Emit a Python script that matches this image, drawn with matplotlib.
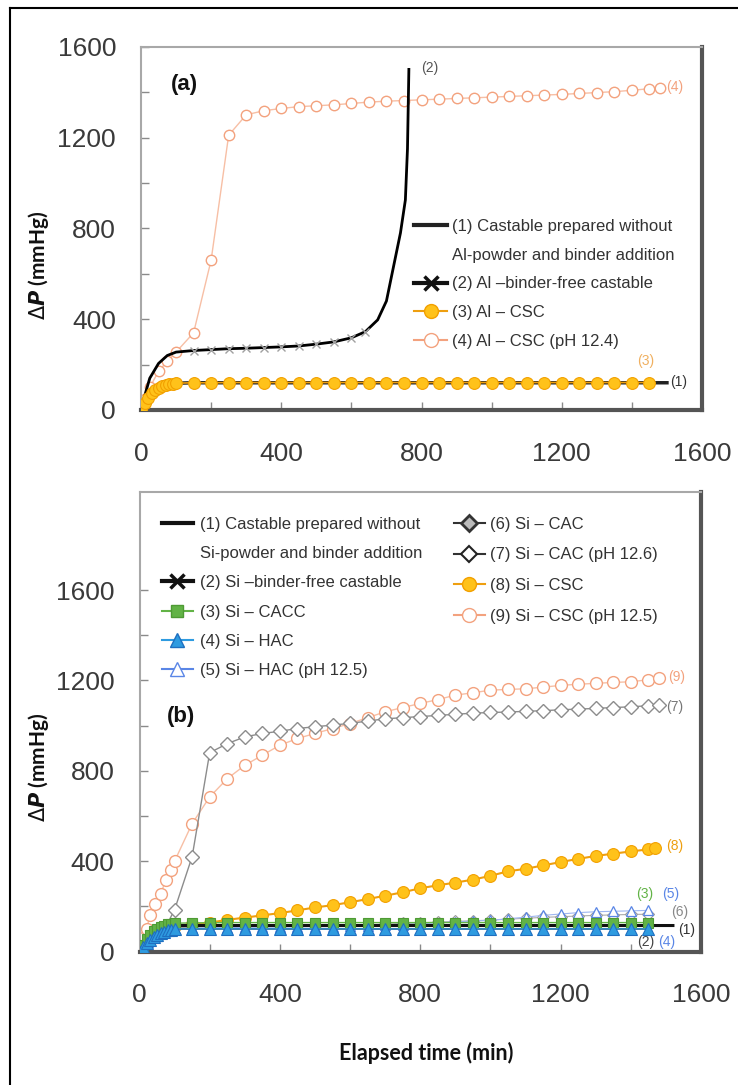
import matplotlib
matplotlib.use('Agg')
import matplotlib.pyplot as plt
from matplotlib.lines import Line2D
from matplotlib.ticker import FixedLocator

plt.rcParams['font.family'] = ['Liberation Sans', 'DejaVu Sans']

# ---------------- data: panel (a) ----------------
a1_x = [0, 20, 40, 60, 80, 100, 150, 1500]
a1_y = [0, 45, 80, 100, 112, 118, 120, 120]

a2_x = [0, 10, 25, 50, 75, 100, 150, 200, 250, 300, 350, 400, 450, 500, 550, 600,
        640, 675, 700, 720, 740, 754, 760, 764]
a2_y = [0, 60, 140, 205, 240, 255, 262, 266, 270, 272, 275, 278, 282, 290, 300, 318,
        345, 397, 480, 630, 780, 925, 1150, 1500]

a3_x = [0, 10, 20, 30, 40, 50, 60, 70, 80, 90, 100, 150, 200, 250, 300, 350, 400, 450,
        500, 550, 600, 650, 700, 750, 800, 850, 900, 950, 1000, 1050, 1100, 1150, 1200,
        1250, 1300, 1350, 1400, 1450]
a3_y = [0, 30, 55, 75, 88, 97, 104, 110, 113, 116, 118, 120, 120, 121, 121, 121, 121, 121,
        121, 121, 121, 121, 121, 121, 121, 121, 121, 121, 121, 121, 121, 121, 121,
        121, 121, 121, 121, 121]

a4_x = [0, 10, 25, 50, 75, 100, 150, 200, 250, 300, 350, 400, 450, 500, 550, 600, 650,
        700, 750, 800, 850, 900, 950, 1000, 1050, 1100, 1150, 1200, 1250, 1300, 1350,
        1400, 1450, 1480]
a4_y = [0, 50, 100, 170, 215, 255, 340, 660, 1210, 1300, 1318, 1328, 1336, 1340, 1344,
        1350, 1356, 1360, 1363, 1366, 1369, 1372, 1375, 1378, 1381, 1384, 1387, 1390,
        1394, 1398, 1402, 1408, 1415, 1420]

a_labels = ['(1) Castable prepared without', 'Al-powder and binder addition',
            '(2) Al \u2013binder-free castable', '(3) Al \u2013 CSC',
            '(4) Al \u2013 CSC (pH 12.4)']

# ---------------- data: panel (b) ----------------
b1_x = [0, 20, 40, 60, 80, 100, 150, 1520]
b1_y = [0, 50, 80, 100, 110, 115, 115, 115]

bx_dense = [0, 10, 20, 30, 40, 50, 60, 70, 80, 90, 100, 150, 200, 250, 300, 350, 400,
            450, 500, 550, 600, 650, 700, 750, 800, 850, 900, 950, 1000, 1050, 1100,
            1150, 1200, 1250, 1300, 1350, 1400, 1450]
b2_y = [0, 25, 45, 60, 72, 80, 88, 93, 97, 100, 100, 100, 100, 100, 100, 100, 100,
        100, 100, 100, 100, 100, 100, 100, 100, 100, 100, 100, 100, 100, 100,
        100, 100, 100, 100, 100, 100, 100]
b3_y = [0, 30, 55, 75, 90, 100, 108, 115, 120, 123, 125, 127, 127, 128, 128, 128, 128,
        128, 128, 128, 128, 128, 128, 128, 128, 128, 128, 128, 128, 128, 128,
        128, 128, 128, 128, 128, 128, 128]
b4_y = [0, 20, 38, 52, 64, 74, 82, 88, 93, 97, 100, 100, 100, 100, 100, 100, 100,
        100, 100, 100, 100, 100, 100, 100, 100, 100, 100, 100, 100, 100, 100,
        100, 100, 100, 100, 100, 100, 100]

bx_sparse = [0, 25, 50, 75, 100, 150, 200, 250, 300, 350, 400, 450, 500, 550, 600, 650,
             700, 750, 800, 850, 900, 950, 1000, 1050, 1100, 1150, 1200, 1250, 1300,
             1350, 1400, 1450]
b5_y = [0, 40, 70, 90, 100, 103, 105, 106, 107, 108, 108, 109, 110, 110, 111, 113,
        116, 119, 123, 127, 131, 135, 138, 145, 152, 160, 166, 172, 176, 178, 180, 182]
b6_y = [0, 45, 75, 95, 105, 108, 110, 111, 112, 113, 113, 114, 115, 116, 117, 119,
        121, 124, 127, 130, 133, 136, 139, 143, 147, 151, 154, 157, 160, 162, 164, 165]

b7_x = [0, 25, 50, 75, 100, 150, 200, 250, 300, 350, 400, 450, 500, 550, 600, 650, 700,
        750, 800, 850, 900, 950, 1000, 1050, 1100, 1150, 1200, 1250, 1300, 1350, 1400,
        1450, 1480]
b7_y = [10, 40, 80, 110, 185, 420, 880, 920, 950, 965, 975, 987, 995, 1002, 1010, 1020,
        1030, 1035, 1040, 1045, 1050, 1055, 1058, 1060, 1063, 1066, 1070, 1073, 1076,
        1080, 1083, 1088, 1090]

b8_x = [0, 25, 50, 75, 100, 150, 200, 250, 300, 350, 400, 450, 500, 550, 600, 650, 700,
        750, 800, 850, 900, 950, 1000, 1050, 1100, 1150, 1200, 1250, 1300, 1350, 1400,
        1450, 1470]
b8_y = [20, 50, 80, 100, 115, 120, 128, 140, 150, 160, 170, 182, 195, 205, 218, 232,
        247, 262, 280, 293, 305, 318, 335, 355, 366, 381, 396, 410, 423, 433, 443, 452,
        457]

b9_x = [0, 10, 20, 30, 45, 60, 75, 90, 100, 150, 200, 250, 300, 350, 400, 450, 500,
        550, 600, 650, 700, 750, 800, 850, 900, 950, 1000, 1050, 1100, 1150, 1200, 1250,
        1300, 1350, 1400, 1450, 1480]
b9_y = [20, 60, 100, 160, 210, 255, 315, 360, 400, 566, 684, 765, 824, 869, 913, 943,
        965, 987, 1009, 1035, 1061, 1080, 1098, 1115, 1135, 1145, 1157, 1160, 1163, 1170,
        1178, 1183, 1187, 1191, 1194, 1203, 1209]

b_labels_c1 = ['(1) Castable prepared without', 'Si-powder and binder addition',
               '(2) Si \u2013binder-free castable', '(3) Si \u2013 CACC',
               '(4) Si \u2013 HAC', '(5) Si \u2013 HAC (pH 12.5)']
b_labels_c2 = ['(6) Si \u2013 CAC', '(7) Si \u2013 CAC (pH 12.6)', '(8) Si \u2013 CSC',
               '(9) Si \u2013 CSC (pH 12.5)']

x_major = [0, 400, 800, 1200, 1600]
x_minor = [200, 600, 1000, 1400]
y_major = [0, 400, 800, 1200, 1600]
y_minor = [200, 600, 1000, 1400]
tick_text = ['0', '400', '800', '1200', '1600']

# ---------------- colours ----------------
ORF = '#FFC21A'; ORE = '#F2A000'; ORL = '#EE9F10'
SAL = '#F3A27E'; SALL = '#F7BFA5'
GRY = '#8C8C8C'
GRN = '#62B346'; GRNE = '#4E9A34'
BLU = '#2E9BE0'; BLUE = '#1E6FC0'
BLO = '#5A86E6'

fig = plt.figure(figsize=(7.38, 10.85), dpi=100)
W, H = 738.0, 1085.0

axa = fig.add_axes([141 / W, 1 - 410 / H, (702 - 141) / W, (410 - 46.7) / H])
axb = fig.add_axes([139.5 / W, 1 - 951.5 / H, (701 - 139.5) / W, (951.5 - 492) / H])


def style(ax, ymax):
    ax.set_xlim(0, 1600)
    ax.set_ylim(0, ymax)
    ax.set_xticks(x_major)
    ax.set_xticklabels(tick_text)
    ax.set_yticks(y_major)
    ax.set_yticklabels(tick_text)
    ax.xaxis.set_minor_locator(FixedLocator(x_minor))
    ax.yaxis.set_minor_locator(FixedLocator(y_minor))
    ax.tick_params(which='both', direction='in', length=6, width=1, color='#8a8a8a',
                   top=False, right=False)
    ax.tick_params(axis='x', which='major', pad=23, labelsize=19, labelcolor='#3a3a3a')
    ax.tick_params(axis='y', which='major', pad=18, labelsize=19, labelcolor='#3a3a3a')
    for s in ['left', 'top']:
        ax.spines[s].set_color('#a8a8a8')
        ax.spines[s].set_linewidth(1.5)
    for s in ['right', 'bottom']:
        ax.spines[s].set_color('#555555')
        ax.spines[s].set_linewidth(3)


style(axa, 1600)
style(axb, 2034)

# ---------------- panel (a) ----------------
axa.plot(a4_x, a4_y, color=SALL, lw=1.0, marker='o', ms=7.5, mfc='white', mec=SAL,
         mew=1.0, zorder=2)
axa.plot(a2_x, a2_y, color='black', lw=2.0, zorder=3)
axa.plot(a2_x[6:17], a2_y[6:17], ls='none', marker='x', ms=6, mec='#a0a0a0', mew=1,
         zorder=3)
axa.plot(a1_x, a1_y, color='#222222', lw=2.5, zorder=3)
axa.plot(a3_x, a3_y, color=ORL, lw=1.2, marker='o', ms=8.5, mfc=ORF, mec=ORE,
         mew=0.8, zorder=4)

axa.text(0.077, 0.897, '(a)', transform=axa.transAxes, fontsize=16,
         fontweight='bold', ha='center', va='center', color='#111111')

axa.text(800, 1505, '(2)', fontsize=10, color='#555555', ha='left', va='center')
axa.text(1497, 1422, '(4)', fontsize=10, color=SAL, ha='left', va='center')
axa.text(1414, 217, '(3)', fontsize=10, color='#F0B060', ha='left', va='center')
axa.text(1509, 125, '(1)', fontsize=10, color='#333333', ha='left', va='center')

ha_handles = [
    Line2D([], [], color='#222222', lw=3),
    Line2D([], [], color='none'),
    Line2D([], [], color='#111111', lw=3, marker='x', ms=10, mew=2.5, mec='#111111'),
    Line2D([], [], color=ORL, lw=1.5, marker='o', ms=10, mfc=ORF, mec=ORE),
    Line2D([], [], color=SAL, lw=1.5, marker='o', ms=10, mfc='white', mec=SAL),
]
lega = axa.legend(ha_handles, a_labels, loc='upper left',
                  bbox_to_anchor=(414 / W, 1 - 219 / H), bbox_transform=fig.transFigure,
                  frameon=False, fontsize=12, handlelength=2.0, handletextpad=0.3,
                  labelspacing=0.82, borderpad=0, borderaxespad=0)
for t in lega.get_texts():
    t.set_color('#333333')

# ---------------- panel (b) ----------------
axb.plot(b9_x, b9_y, color=SALL, lw=1.0, marker='o', ms=8.5, mfc='white', mec=SAL,
         mew=1.0, zorder=2)
axb.plot(b7_x, b7_y, color=GRY, lw=1.0, marker='D', ms=7, mfc='white', mec=GRY,
         mew=1.0, zorder=2.5)
axb.plot(b8_x, b8_y, color=ORL, lw=1.5, marker='o', ms=8.5, mfc=ORF, mec=ORE,
         mew=0.8, zorder=3)
axb.plot(bx_sparse, b6_y, color='#aaaaaa', lw=0.8, marker='D', ms=6, mfc='white',
         mec='#999999', mew=0.8, zorder=3)
axb.plot(bx_sparse, b5_y, color='#9fb6f0', lw=0.8, marker='^', ms=7.5, mfc='white',
         mec=BLO, mew=0.9, zorder=3.2)
axb.plot(bx_dense, b2_y, color='#333333', lw=1.2, marker='x', ms=5, mec='#1b3f70',
         mew=1, zorder=3.4)
axb.plot(b1_x, b1_y, color='#111111', lw=2.2, zorder=3.5)
axb.plot(bx_dense, b3_y, color=GRN, lw=1.0, marker='s', ms=7, mfc=GRN, mec=GRNE,
         mew=0.8, zorder=4)
axb.plot(bx_dense, b4_y, color=BLU, lw=1.0, marker='^', ms=8, mfc=BLU, mec=BLUE,
         mew=0.8, zorder=4.5)

axb.text(0.074, 0.512, '(b)', transform=axb.transAxes, fontsize=16,
         fontweight='bold', ha='center', va='center', color='#111111')

axb.text(1506, 1216, '(9)', fontsize=10, color=SAL, ha='left', va='center')
axb.text(1502, 1083, '(7)', fontsize=10, color='#777777', ha='left', va='center')
axb.text(1500, 465, '(8)', fontsize=10, color=ORL, ha='left', va='center')
axb.text(1416, 256, '(3)', fontsize=10, color=GRN, ha='left', va='center')
axb.text(1488, 256, '(5)', fontsize=10, color=BLO, ha='left', va='center')
axb.text(1516, 174, '(6)', fontsize=10, color='#888888', ha='left', va='center')
axb.text(1534, 93, '(1)', fontsize=10, color='#333333', ha='left', va='center')
axb.text(1417, 41, '(2)', fontsize=10, color='#444444', ha='left', va='center')
axb.text(1477, 41, '(4)', fontsize=10, color=BLO, ha='left', va='center')

hb1 = [
    Line2D([], [], color='#111111', lw=3),
    Line2D([], [], color='none'),
    Line2D([], [], color='#111111', lw=3, marker='x', ms=10, mew=2.5, mec='#111111'),
    Line2D([], [], color=GRN, lw=1.5, marker='s', ms=9, mfc=GRN, mec=GRNE),
    Line2D([], [], color=BLU, lw=1.5, marker='^', ms=10, mfc=BLU, mec=BLUE),
    Line2D([], [], color=BLO, lw=1.5, marker='^', ms=10, mfc='white', mec=BLO),
]
hb2 = [
    Line2D([], [], color='#333333', lw=1.5, marker='D', ms=8, mfc='#bbbbbb', mec='#333333', mew=2),
    Line2D([], [], color='#333333', lw=1.5, marker='D', ms=8, mfc='white', mec='#222222', mew=1.5),
    Line2D([], [], color=ORL, lw=1.5, marker='o', ms=10, mfc=ORF, mec=ORE),
    Line2D([], [], color=SAL, lw=1.5, marker='o', ms=10, mfc='white', mec=SAL),
]
legb1 = axb.legend(hb1, b_labels_c1, loc='upper left',
                   bbox_to_anchor=(162 / W, 1 - 517 / H), bbox_transform=fig.transFigure,
                   frameon=False, fontsize=12, handlelength=1.85, handletextpad=0.4,
                   labelspacing=0.85, borderpad=0, borderaxespad=0)
axb.add_artist(legb1)
legb2 = axb.legend(hb2, b_labels_c2, loc='upper left',
                   bbox_to_anchor=(454 / W, 1 - 517 / H), bbox_transform=fig.transFigure,
                   frameon=False, fontsize=12, handlelength=1.85, handletextpad=0.3,
                   labelspacing=0.93, borderpad=0, borderaxespad=0)
for lg in (legb1, legb2):
    for t in lg.get_texts():
        t.set_color('#333333')

# ---------------- axis titles ----------------
ylab = r'$\Delta\mathbfit{P}$ (mmHg)'
fig.text(38.5 / W, 1 - 265 / H, ylab, rotation=90, ha='center', va='center',
         fontsize=15, fontweight='bold', family=['Lato', 'DejaVu Sans'], color='#111111')
fig.text(38.5 / W, 1 - 767 / H, ylab, rotation=90, ha='center', va='center',
         fontsize=15, fontweight='bold', family=['Lato', 'DejaVu Sans'], color='#111111')
fig.text(426 / W, 1 - 1053 / H, 'Elapsed time (min)', ha='center', va='center',
         fontsize=15.5, fontweight='bold', family=['Lato', 'DejaVu Sans'], color='#111111')

# outer frame (top and left edges)
fig.add_artist(Line2D([10 / W, 1.0], [1 - 8 / H, 1 - 8 / H], transform=fig.transFigure,
                      color='black', lw=1.5))
fig.add_artist(Line2D([10 / W, 10 / W], [0, 1 - 8 / H], transform=fig.transFigure,
                      color='black', lw=1.5))

fig.savefig('out.png', dpi=100)
